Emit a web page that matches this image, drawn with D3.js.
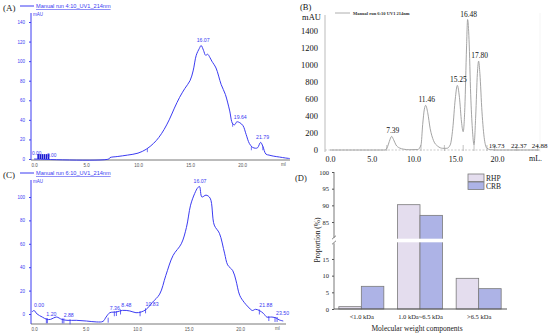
<!DOCTYPE html>
<html><head><meta charset="utf-8">
<script src="https://cdn.jsdelivr.net/npm/d3@7"></script>
<style>
html,body{margin:0;padding:0;background:#fff;}
svg{display:block;}
.sans{font-family:"Liberation Sans",Arial,sans-serif;}
.serif{font-family:"Liberation Serif","Times New Roman",serif;}
</style></head>
<body>
<svg id="chart" width="550" height="336"></svg>
<script>
// ---------- DATA ----------
// Panel A: Manual run 4:10_UV1_214nm
const aVolume = [0, 7.2, 7.3, 8, 9, 10, 10.8, 11.5, 12, 12.5, 13, 13.5, 14, 14.5, 15, 15.3, 15.6, 15.9, 16.07, 16.3, 16.5, 16.7, 16.9, 17.1, 17.5, 18, 18.4, 18.8, 19.1, 19.3, 19.5, 19.8, 20.1, 20.4, 20.7, 21.0, 21.3, 21.5, 21.79, 22.0, 22.3, 22.6, 23, 23.6, 24.2, 24.6];
const aSignal = [0, 0, 1.4, 2.5, 4, 6, 10, 16, 22, 30, 40, 52, 63, 72, 80, 90, 106, 113, 116, 111, 106, 107, 104, 100, 93, 76, 66, 50, 36, 35, 38, 37, 34, 25, 16, 12, 11, 11.5, 17, 13, 5, 4, 3, 2, 1, 0.5];
const aPeakLabels = ["16.07", "19.64", "21.79"];
const aPeakX = [16.07, 19.64, 21.79];
const aPeakY = [116, 38, 17];
const aMarkX = [10.9, 19.1, 20.9, 22.0];
const aMarkY = [10, 36, 12, 12];
const aStartMarkX = [0.4, 0.6, 0.8, 1.0, 1.2, 1.4];
const aTicksY = [0, 20, 40, 60, 80, 100, 120, 140];
const xTicks = [0, 5, 10, 15, 20];
const xTickLabels = ["0.0", "5.0", "10.0", "15.0", "20.0"];

// Panel B: Manual run 6:10 UV1 214nm
const bVolume = [0, 6.6, 6.9, 7.1, 7.39, 7.6, 7.9, 8.3, 8.8, 9.5, 10.5, 10.9, 11.1, 11.3, 11.46, 11.7, 12.0, 12.4, 12.9, 13.5, 14.0, 14.4, 14.7, 15.0, 15.25, 15.5, 15.75, 15.95, 16.15, 16.35, 16.48, 16.65, 16.85, 17.05, 17.25, 17.45, 17.65, 17.8, 17.95, 18.2, 18.5, 18.8, 19.2, 20, 25];
const bSignal = [0, 0, 40, 100, 160, 125, 60, 25, 10, 3, 5, 60, 300, 480, 525, 440, 250, 110, 45, 20, 20, 60, 250, 600, 760, 620, 330, 215, 500, 1200, 1535, 1300, 650, 250, 60, 400, 900, 1045, 900, 450, 120, 20, 5, 0, 0];
const bPeakLabels = ["7.39", "11.46", "15.25", "16.48", "17.80"];
const bPeakX = [7.39, 11.46, 15.25, 16.48, 17.80];
const bPeakY = [160, 525, 760, 1535, 1045];
const bSmallLabels = ["19.73", "22.37", "24.88"];
const bSmallX = [19.73, 22.37, 24.88];
const bMarkX = [6.8, 10.9, 13.7, 15.95, 17.25, 18.8, 19.73, 22.37, 24.88];
const bTicksY = [0, 200, 400, 600, 800, 1000, 1200, 1400];

// Panel C: Manual run 6:10_UV1_214nm
const cVolume = [-0.2, 0, 0.3, 0.8, 1.25, 1.6, 1.9, 2.2, 2.7, 3.2, 4.1, 5.1, 6.1, 6.7, 7.0, 7.36, 8.0, 8.6, 9.3, 9.9, 10.4, 10.9, 11.5, 12.2, 12.8, 13.5, 14.3, 14.8, 15.2, 15.6, 15.9, 16.07, 16.3, 16.7, 17.1, 17.5, 18.0, 18.5, 18.8, 19.3, 19.6, 19.97, 20.4, 20.8, 21.2, 21.5, 21.88, 22.3, 22.6, 23.1, 23.5, 23.8, 24.2];
const cSignal = [1.7, 3, 0, -2.6, -4.6, -4.6, -3.4, -2.6, -4.6, -5.4, -5.4, -6, -6.8, -6.3, -2.6, 1.1, 1.7, 3.1, 2.6, 1.1, 1.7, 4, 10, 17, 33, 50, 60, 74, 93, 103, 108, 109, 100, 101.6, 99, 76, 69, 52, 42, 37, 29, 16, 10, 6, 3, 4, 3, 0.3, -2.6, -2.6, -3.4, -5, -6];
const cPeakLabels = ["0.00", "1.20", "2.88", "7.36", "8.48", "10.83", "16.07", "21.88", "23.50"];
const cPeakX = [0.0, 1.20, 2.88, 7.36, 8.48, 10.83, 16.07, 21.88, 23.50];
const cPeakY = [3, -4, -5, 1.1, 3.1, 4, 109, 3, -3.4];
const cMarkX = [1.2, 1.3, 2.75, 2.9, 3.5, 7.2, 7.8, 8.0, 8.4, 10.3, 10.83, 21.88, 22.8, 23.4, 23.6];
const cMarkY = [-4.5, -4.5, -4.6, -4.6, -5.4, -4, 1.5, 1.7, 3, 1.5, 4, 3, -2.6, -3.4, -3.4];
const cTicksY = [0, 20, 40, 60, 80, 100];

// Panel D: molecular weight distribution
const dCategories = ["<1.0 kDa", "1.0 kDa~6.5 kDa", ">6.5 kDa"];
const dSeries = ["RHP", "CRB"];
const dRHP = [0.7, 90.2, 9.2];
const dCRB = [6.8, 87.0, 6.1];
const dTicksLow = [0, 5, 10, 15];
const dTicksHigh = [85, 90, 95, 100];

// ---------- DRAWING ----------
const svg = d3.select("#chart");
const BLUE = "#3b3bf2";

function blueChrom(opts) {
  const g = svg.append("g").attr("class", "sans");
  const x = d3.scaleLinear().domain([0, 25]).range(opts.xr);
  const y = d3.scaleLinear().domain(opts.yd).range(opts.yr);
  g.append("line").attr("x1", opts.axX).attr("x2", opts.axX).attr("y1", opts.axTop).attr("y2", opts.axY)
    .attr("stroke", BLUE).attr("stroke-width", 1);
  g.append("line").attr("x1", opts.axX).attr("x2", opts.axRight).attr("y1", opts.axY).attr("y2", opts.axY)
    .attr("stroke", "#555").attr("stroke-width", 0.8);
  const ya = g.append("g").attr("transform", `translate(${opts.axX},0)`)
    .call(d3.axisLeft(y).tickValues(opts.yTicks).tickSize(2).tickFormat(d3.format("d")));
  ya.select(".domain").remove();
  ya.selectAll("line").attr("stroke", BLUE);
  ya.selectAll("text").attr("fill", BLUE).attr("font-size", 4.5).attr("font-family", "Liberation Sans, Arial").attr("dx", -1);
  const xa = g.append("g").attr("transform", `translate(0,${opts.axY})`)
    .call(d3.axisBottom(x).tickValues(xTicks).tickSize(0).tickFormat((d, i) => xTickLabels[i]));
  xa.select(".domain").remove();
  xa.selectAll("text").attr("fill", "#555").attr("font-size", 4.5).attr("font-family", "Liberation Sans, Arial").attr("dy", "0.9em");
  g.append("text").attr("x", opts.mlX).attr("y", opts.axY + 6).attr("font-size", 4.5).attr("fill", "#555").text("ml");
  g.append("text").attr("x", opts.axX + 2).attr("y", opts.axTop + 3).attr("font-size", 4.5).attr("fill", BLUE).text("mAU");
  g.append("line").attr("x1", 20).attr("x2", 34).attr("y1", opts.legY).attr("y2", opts.legY).attr("stroke", BLUE).attr("stroke-width", 1);
  g.append("text").attr("x", 36).attr("y", opts.legY + 2).attr("font-size", 5.6).attr("fill", BLUE)
    .attr("text-decoration", "underline").text(opts.legend);
  g.append("text").attr("class", "serif").attr("x", 3).attr("y", opts.legY + 5).attr("font-size", 9).attr("fill", "#222").text(opts.tag);
  const pts = opts.vx.map((v, i) => [v, opts.vy[i]]);
  g.append("path").datum(pts).attr("fill", "none").attr("stroke", BLUE).attr("stroke-width", 1)
    .attr("d", d3.line().x(d => x(d[0])).y(d => y(d[1])).curve(d3.curveCatmullRom));
  return {g, x, y};
}

// Panel A
const A = blueChrom({xr: [34, 294], yd: [0, 140], yr: [159, 22], axX: 31, axTop: 13, axY: 160, axRight: 290,
  yTicks: aTicksY, mlX: 281, legY: 6, legend: "Manual run 4:10_UV1_214nm", tag: "(A)", vx: aVolume, vy: aSignal});
A.g.selectAll(".pkA").data(aPeakLabels).join("text").attr("font-size", 5.2).attr("fill", BLUE)
  .attr("text-anchor", "middle").attr("x", (d, i) => A.x(aPeakX[i]) + 2).attr("y", (d, i) => A.y(aPeakY[i]) - 3).text(d => d);
A.g.selectAll(".mkA").data(aMarkX).join("line").attr("stroke", BLUE).attr("stroke-width", 0.7)
  .attr("x1", d => A.x(d)).attr("x2", d => A.x(d)).attr("y1", (d, i) => A.y(aMarkY[i]) - 1).attr("y2", (d, i) => A.y(aMarkY[i]) + 3);
A.g.selectAll(".smA").data(aStartMarkX).join("line").attr("stroke", "#1a1ad0").attr("stroke-width", 1.6)
  .attr("x1", d => A.x(d)).attr("x2", d => A.x(d)).attr("y1", A.y(5)).attr("y2", A.y(0));
A.g.append("text").attr("font-size", 4.8).attr("fill", BLUE).attr("x", 32).attr("y", 155).text("0.00");
A.g.append("text").attr("font-size", 4.8).attr("fill", BLUE).attr("x", 47).attr("y", 157).text("0.00");

// Panel C
const C = blueChrom({xr: [34, 291.5], yd: [0, 100], yr: [314, 197], axX: 31, axTop: 180, axY: 324, axRight: 286,
  yTicks: cTicksY, mlX: 275, legY: 173, legend: "Manual run 6:10_UV1_214nm", tag: "(C)", vx: cVolume, vy: cSignal});
C.g.selectAll(".pkC").data(cPeakLabels).join("text").attr("font-size", 5.2).attr("fill", BLUE)
  .attr("x", (d, i) => C.x(cPeakX[i]) + (i === 6 ? -6 : 0)).attr("y", (d, i) => C.y(cPeakY[i]) - 3).text(d => d);
C.g.selectAll(".mkC").data(cMarkX).join("line").attr("stroke", BLUE).attr("stroke-width", 0.8)
  .attr("x1", d => C.x(d)).attr("x2", d => C.x(d)).attr("y1", (d, i) => C.y(cMarkY[i]) - 1).attr("y2", (d, i) => C.y(cMarkY[i]) + 4);

// Panel B
(function () {
  const g = svg.append("g").attr("class", "serif");
  const x = d3.scaleLinear().domain([0, 25]).range([330, 538.75]);
  const y = d3.scaleLinear().domain([0, 1400]).range([150, 31]);
  g.append("line").attr("x1", 325).attr("x2", 325).attr("y1", 15).attr("y2", 152).attr("stroke", "#aaa").attr("stroke-width", 0.8);
  g.append("line").attr("x1", 540).attr("x2", 540).attr("y1", 13).attr("y2", 152).attr("stroke", "#eee").attr("stroke-width", 0.6);
  g.append("line").attr("x1", 325).attr("x2", 540).attr("y1", y(0)).attr("y2", y(0)).attr("stroke", "#aaa").attr("stroke-width", 0.6).attr("stroke-dasharray", "2,1.5");
  const ya = g.append("g").attr("transform", "translate(325,0)")
    .call(d3.axisLeft(y).tickValues(bTicksY).tickSize(0).tickFormat(d3.format("d")));
  ya.select(".domain").remove();
  ya.selectAll("text").attr("fill", "#111").attr("font-size", 8.5).attr("font-family", "Liberation Serif, serif").attr("dx", -4);
  const xa = g.append("g").attr("transform", "translate(0,152)")
    .call(d3.axisBottom(x).tickValues(xTicks).tickSize(0).tickFormat((d, i) => xTickLabels[i]));
  xa.select(".domain").remove();
  xa.selectAll("text").attr("fill", "#111").attr("font-size", 8).attr("font-family", "Liberation Serif, serif").attr("dy", "0.85em");
  g.append("text").attr("x", 529).attr("y", 161).attr("font-size", 8).attr("fill", "#111").text("mL.");
  g.append("text").attr("x", 321).attr("y", 20).attr("text-anchor", "end").attr("font-size", 8.5).attr("fill", "#111").text("mAU");
  g.append("text").attr("x", 300).attr("y", 10).attr("font-size", 8.5).attr("fill", "#111").text("(B)");
  g.append("line").attr("x1", 335).attr("x2", 350).attr("y1", 13).attr("y2", 13).attr("stroke", "#999").attr("stroke-width", 0.8);
  g.append("text").attr("x", 353).attr("y", 14.5).attr("font-size", 4.5).attr("font-weight", "bold").attr("fill", "#333").text("Manual run 6:10 UV1 214nm");
  const pts = bVolume.map((v, i) => [v, bSignal[i]]);
  g.append("path").datum(pts).attr("fill", "none").attr("stroke", "#9a9a9a").attr("stroke-width", 0.9)
    .attr("d", d3.line().x(d => x(d[0])).y(d => y(d[1])).curve(d3.curveMonotoneX));
  g.selectAll(".mkB").data(bMarkX).join("line").attr("stroke", "#999").attr("stroke-width", 0.6)
    .attr("x1", d => x(d)).attr("x2", d => x(d)).attr("y1", y(0) - 5).attr("y2", y(0) + 1);
  g.selectAll(".pkB").data(bPeakLabels).join("text").attr("font-size", 7.5).attr("fill", "#111").attr("text-anchor", "middle")
    .attr("x", (d, i) => x(bPeakX[i]) + 1).attr("y", (d, i) => y(bPeakY[i]) - 3).text(d => d);
  g.selectAll(".smB").data(bSmallLabels).join("text").attr("font-size", 7).attr("fill", "#111").attr("text-anchor", "middle")
    .attr("x", (d, i) => x(bSmallX[i]) + 2).attr("y", 148).text(d => d);
})();

// Panel D
(function () {
  const g = svg.append("g").attr("class", "serif");
  const x0 = d3.scalePoint().domain(dCategories).range([332, 508]).padding(0.5);
  const x1 = d3.scaleBand().domain(dSeries).range([-22.5, 22.5]).padding(0);
  const y = d3.scaleLinear().domain([0, 20, 80, 100]).range([309, 242.3, 238.7, 172]);
  const fills = {RHP: "#e4ddee", CRB: "#adb3e6"};
  const rows = [];
  dCategories.forEach((c, i) => { rows.push({c, s: "RHP", v: dRHP[i]}); rows.push({c, s: "CRB", v: dCRB[i]}); });
  g.selectAll(".bar").data(rows).join("rect")
    .attr("x", d => x0(d.c) + x1(d.s)).attr("width", x1.bandwidth())
    .attr("y", d => y(d.v)).attr("height", d => y(0) - y(d.v))
    .attr("fill", d => fills[d.s]).attr("stroke", "#7a7a7a").attr("stroke-width", 0.8);
  g.append("rect").attr("x", x0(dCategories[1]) - 24).attr("width", 48).attr("y", y(80)).attr("height", y(20) - y(80)).attr("fill", "#fff");
  const ya1 = g.append("g").attr("transform", "translate(334,0)").call(d3.axisLeft(y).tickValues(dTicksLow).tickSize(2));
  const ya2 = g.append("g").attr("transform", "translate(334,0)").call(d3.axisLeft(y).tickValues(dTicksHigh).tickSize(2));
  [ya1, ya2].forEach(a => {
    a.select(".domain").remove();
    a.selectAll("line").attr("stroke", "#555");
    a.selectAll("text").attr("font-size", 6.5).attr("fill", "#222").attr("font-family", "Liberation Serif, serif");
  });
  g.append("line").attr("x1", 334).attr("x2", 334).attr("y1", 172).attr("y2", y(80) - 1).attr("stroke", "#555").attr("stroke-width", 0.8);
  g.append("line").attr("x1", 334).attr("x2", 334).attr("y1", y(20) + 1).attr("y2", 309).attr("stroke", "#555").attr("stroke-width", 0.8);
  g.append("line").attr("x1", 332).attr("x2", 336).attr("y1", y(80) + 0.5).attr("y2", y(80) - 3).attr("stroke", "#555").attr("stroke-width", 0.7);
  g.append("line").attr("x1", 332).attr("x2", 336).attr("y1", y(20) + 2).attr("y2", y(20) - 1.5).attr("stroke", "#555").attr("stroke-width", 0.7);
  const xa = g.append("g").attr("transform", "translate(0,309)").call(d3.axisBottom(x0).tickSize(0));
  xa.select(".domain").attr("d", "M334,0H507").attr("stroke", "#555");
  xa.selectAll("text").attr("font-size", 6.5).attr("fill", "#222").attr("font-family", "Liberation Serif, serif").attr("dy", "1.1em");
  g.append("text").attr("x", 417).attr("y", 331).attr("text-anchor", "middle").attr("font-size", 7.5).attr("fill", "#222").text("Molecular weight components");
  g.append("text").attr("transform", "translate(320,240) rotate(-90)").attr("text-anchor", "middle").attr("font-size", 7.5).attr("fill", "#222").text("Proportion (%)");
  g.append("text").attr("x", 295).attr("y", 181).attr("font-size", 8.5).attr("fill", "#222").text("(D)");
  dSeries.forEach((s, i) => {
    g.append("rect").attr("x", 468).attr("y", 174 + i * 8).attr("width", 16).attr("height", 7.5)
      .attr("fill", fills[s]).attr("stroke", "#7a7a7a").attr("stroke-width", 0.8);
    g.append("text").attr("x", 486).attr("y", 180.5 + i * 8).attr("font-size", 7.5).attr("fill", "#222").text(s);
  });
})();
</script>
</body></html>
